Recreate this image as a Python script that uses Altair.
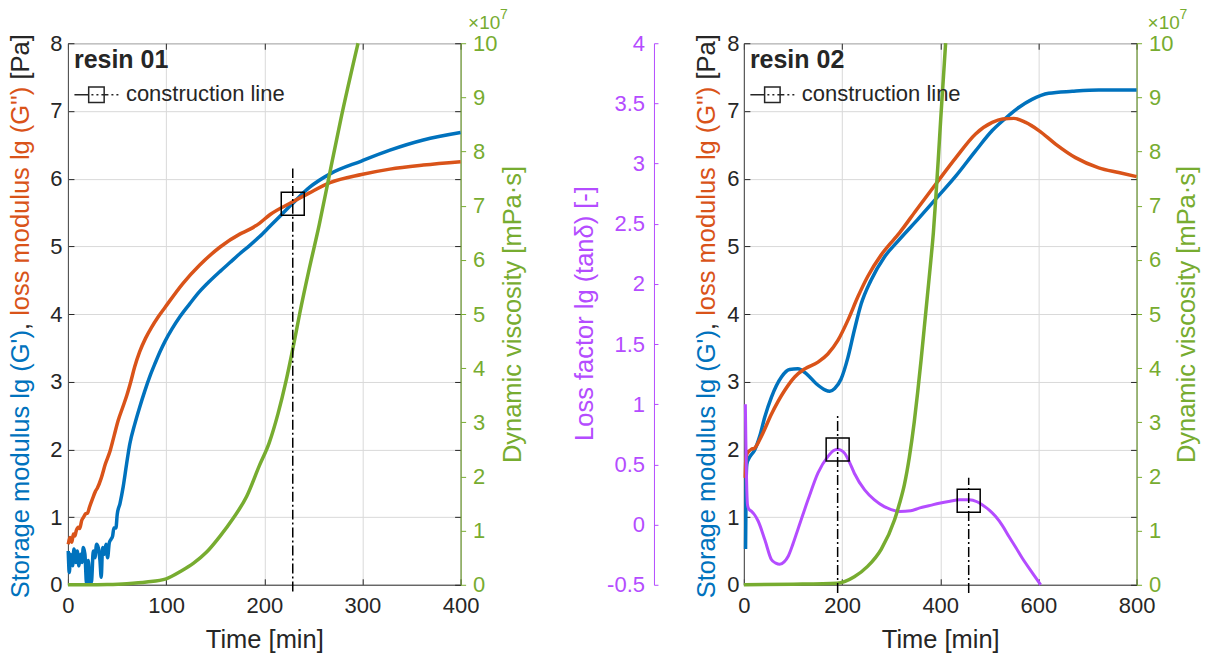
import altair as alt
import pandas as pd

# ---------------- data ----------------
# resin 01
r1_gp_t = [0.3, 1.4, 2.7, 4.8, 6.1, 8.1, 9.5, 11.2, 12.9, 14.3, 15.6, 17.3, 19.0, 20.7, 22.4, 24.1, 25.8, 27.5, 29.2, 30.9,
           32.6, 33.9, 35.3, 37.0, 38.7, 40.4, 42.1, 43.8, 45.5, 46.8, 48.9, 50.2, 53, 56.3, 59.7, 63, 68, 73,
           78, 84, 89, 94, 99, 106, 114, 124, 134, 144, 155, 165, 175, 185, 195, 206, 217, 228, 246, 267, 299, 328, 362, 400]
r1_gp_v = [0.50, 0.18, 0.45, 0.28, 0.53, 0.33, 0.50, 0.28, 0.45, 0.33, 0.55, 0.45, 0.01, 0.36, 0.01, 0.06, 0.50, 0.40, 0.60, 0.55,
           0.36, 0.11, 0.55, 0.45, 0.60, 0.40, 0.62, 0.67, 0.72, 0.84, 0.84, 1.04, 1.2, 1.45, 1.78, 2.08, 2.37, 2.62,
           2.85, 3.1, 3.28, 3.45, 3.6, 3.78, 3.96, 4.15, 4.33, 4.48, 4.63, 4.76, 4.89, 5.01, 5.14, 5.3, 5.46, 5.62, 5.87, 6.07, 6.26, 6.42, 6.57, 6.68]
r1_gpp_t = [0.3, 2, 4, 5.5, 7, 8.5, 10.5, 12, 14, 16, 18, 20, 22, 25, 28, 30, 34, 38, 43, 47,
            51, 56, 60, 64, 68, 73, 79, 85, 92, 99, 117, 134, 155, 175, 185, 195, 206, 228, 246, 267, 299, 328, 362, 400]
r1_gpp_v = [0.6, 0.7, 0.63, 0.75, 0.72, 0.8, 0.85, 0.83, 0.95, 1.0, 1.05, 1.06, 1.15, 1.27, 1.38, 1.43, 1.58, 1.78, 1.98, 2.2,
            2.42, 2.63, 2.8, 3.0, 3.22, 3.44, 3.64, 3.80, 3.96, 4.10, 4.45, 4.72, 4.99, 5.18, 5.25, 5.34, 5.47, 5.65, 5.79, 5.94, 6.06, 6.14, 6.20, 6.25]
r1_visc_t = [0, 20, 40, 60, 80, 100, 115, 128, 141, 155, 168, 182, 195, 205, 214, 222, 229, 236, 246, 256, 265, 278, 295.5]
r1_visc_v = [0, 0, 0.005, 0.02, 0.05, 0.11, 0.25, 0.4, 0.6, 0.9, 1.22, 1.63, 2.2, 2.62, 3.16, 3.75, 4.35, 5.0, 5.85, 6.65, 7.45, 8.6, 10.0]
r1_con_t = [229]
r1_con_lo = [-0.1]
r1_con_hi = [6.15]
r1_con_sq = [5.63]

# resin 02
r2_gp_t = [3.4, 4.5, 6, 9, 12, 22, 32.5, 42.6, 56, 76.5, 93, 110, 127, 147.5, 165, 175, 185, 198, 212, 225,
           239, 259, 286, 313, 357, 391, 432, 472, 506, 533, 560, 587, 621, 669, 723, 800]
r2_gp_v = [0.53, 1.5, 1.78, 1.85, 1.89, 1.99, 2.2, 2.48, 2.77, 3.07, 3.18, 3.19, 3.12, 2.97, 2.88, 2.86, 2.9, 3.04, 3.36, 3.76,
           4.15, 4.5, 4.84, 5.07, 5.42, 5.7, 6.04, 6.41, 6.71, 6.89, 7.05, 7.17, 7.26, 7.29, 7.31, 7.31]
r2_gpp_t = [2.7, 4, 6, 10, 15, 22, 36, 56, 83, 103.5, 124, 151, 171, 191.5, 212, 232, 252, 279.5, 306.6, 317,
            350.6, 391, 432, 472, 506, 527, 550, 574, 601, 635, 675.5, 723, 763.5, 800]
r2_gpp_v = [1.58, 1.85, 1.93, 1.97, 2.0, 2.02, 2.2, 2.52, 2.87, 3.07, 3.19, 3.29, 3.41, 3.61, 3.91, 4.25, 4.55, 4.87, 5.11, 5.2,
            5.53, 5.92, 6.31, 6.66, 6.83, 6.88, 6.89, 6.83, 6.71, 6.51, 6.31, 6.16, 6.09, 6.03]
r2_tan_t = [3, 4, 5, 6, 7.5, 10, 15.6, 22, 29, 43, 56, 65, 73, 82, 90, 100, 110, 131, 151, 171,
            183, 190, 197, 205, 215, 225, 246, 266, 286, 300, 317, 340, 357, 380, 398, 420, 439, 459, 475, 486,
            500, 513, 527, 540, 554, 567, 588, 604.5]
r2_tan_v = [1.0, 0.7, 0.45, 0.28, 0.16, 0.13, 0.11, 0.08, 0.03, -0.13, -0.29, -0.32, -0.33, -0.31, -0.265, -0.16, -0.04, 0.21, 0.43, 0.565,
            0.615, 0.627, 0.62, 0.594, 0.52, 0.427, 0.289, 0.206, 0.15, 0.125, 0.109, 0.115, 0.137, 0.16, 0.178, 0.195, 0.206, 0.206, 0.19, 0.164,
            0.12, 0.067, -0.01, -0.099, -0.19, -0.278, -0.403, -0.5]
r2_visc_t = [0, 100, 190, 225, 252, 280, 307, 317, 327, 337, 347, 354, 361, 367.5, 374, 381, 386, 391, 396, 401, 406, 411]
r2_visc_v = [0, 0.01, 0.03, 0.15, 0.34, 0.66, 1.2, 1.5, 1.85, 2.35, 3.0, 3.55, 4.15, 4.75, 5.35, 6.0, 6.5, 7.15, 7.85, 8.6, 9.3, 10.0]
r2_con_t = [191, 458]
r2_con_lo = [-0.12, -0.12]
r2_con_hi = [2.52, 1.58]
r2_con_sq = [2.0, 1.24]

lg_ticks = [0, 1, 2, 3, 4, 5, 6, 7, 8]
visc_ticks = [0, 1, 2, 3, 4, 5, 6, 7, 8, 9, 10]
tan_ticks = [-0.5, 0, 0.5, 1, 1.5, 2, 2.5, 3, 3.5, 4]
x1_ticks = [0, 100, 200, 300, 400]
x2_ticks = [0, 200, 400, 600, 800]

# ---------------- style ----------------
BLUE = "#0072BD"
ORANGE = "#D95319"
GREEN = "#77AC30"
PURPLE = "#B44CFF"
INK = "#262626"
GRID = "#d9d9d9"
BOX = "#4d4d4d"
FONT = "Liberation Sans"
W, H = 393, 542
LAB = 22
TTL = 25.5

one = pd.DataFrame({"k": [0]})


def xscale(xmax):
    return alt.Scale(domain=[0, xmax], nice=False, zero=False)


def x_main_axis(ticks):
    return alt.Axis(values=ticks, grid=True, gridColor=GRID, gridWidth=1, ticks=False,
                    domainColor=BOX, labelColor=INK, labelFontSize=LAB, labelPadding=28,
                    labelBaseline="alphabetic", labelFlush=False, labelOverlap=False,
                    title="Time [min]", titleColor=INK, titleFontSize=TTL, titleFontWeight="normal",
                    titleX=W / 2, titleY=63, titleBaseline="alphabetic", titleAlign="center")


def yscale(dom):
    return alt.Scale(domain=dom, nice=False, zero=False)


def line(t, v, color, xmax, xaxis, ydom, yaxis, width=3.5, interp="monotone"):
    df = pd.DataFrame({"t": t, "v": v})
    return alt.Chart(df).mark_line(color=color, strokeWidth=width, interpolate=interp).encode(
        x=alt.X("t:Q", scale=xscale(xmax), axis=xaxis),
        y=alt.Y("v:Q", scale=yscale(ydom), axis=yaxis))


def inner_ticks(t, v, xmax, xt):
    """Invisible layers that carry MATLAB-style inward box ticks."""
    df = pd.DataFrame({"t": t, "v": v})
    common = dict(grid=False, labels=False, domain=False, ticks=True, tickSize=6, tickColor=INK,
                  tickWidth=1, title=None)
    a = alt.Chart(df).mark_line(strokeOpacity=0).encode(
        x=alt.X("t:Q", scale=xscale(xmax), axis=alt.Axis(orient="bottom", offset=-H, values=xt, **common)),
        y=alt.Y("v:Q", scale=yscale([0, 8]), axis=alt.Axis(orient="right", offset=-W, values=lg_ticks, **common)))
    b = alt.Chart(df).mark_line(strokeOpacity=0).encode(
        x=alt.X("t:Q", scale=xscale(xmax), axis=alt.Axis(orient="top", offset=-H, values=xt, **common)),
        y=alt.Y("v:Q", scale=yscale([0, 8]), axis=alt.Axis(orient="left", offset=-W, values=lg_ticks, **common)))
    return [a, b]


def txt(text, x, y, size, color=INK, weight="normal", angle=0, align="left", baseline="alphabetic"):
    return alt.Chart(one).mark_text(text=text, font=FONT, fontSize=size, fontWeight=weight, color=color,
                                    angle=angle, align=align, baseline=baseline).encode(
        x=alt.value(x), y=alt.value(y))


def lg_axis(pad):
    return alt.Axis(orient="left", values=lg_ticks, grid=True, gridColor=GRID, gridWidth=1, ticks=False,
                    domainColor=BOX, labelColor=INK, labelFontSize=LAB, labelPadding=pad,
                    labelFlush=False, labelOverlap=False, title=None)


def visc_axis(tx):
    return alt.Axis(orient="right", values=visc_ticks, grid=False, ticks=True, tickSize=5, tickColor=GREEN,
                    domainColor=GREEN, labelColor=GREEN, labelFontSize=LAB, labelPadding=7,
                    labelFlush=False, labelOverlap=False,
                    title="Dynamic viscosity [mPa·s]", titleColor=GREEN, titleFontSize=TTL,
                    titleFontWeight="normal", titleAngle=270, titleX=tx, titleY=H / 2,
                    titleAlign="center", titleBaseline="alphabetic")


def decorations(label, bx, xlab):
    s = 555.5
    return [
        txt("Storage modulus lg (G')", bx, s, TTL, BLUE, angle=270),
        txt(",", bx, s - 268.5, TTL, INK, angle=270),
        txt("loss modulus lg (G'')", bx, s - 282.7, TTL, ORANGE, angle=270),
        txt("[Pa]", bx, s - 519.2, TTL, INK, angle=270),
        txt(label, 6, 24.3, 25, INK, weight="bold"),
        alt.Chart(one).mark_rule(color=INK, strokeWidth=1.5, strokeDash=[14, 3, 2, 3, 2, 3, 7, 3, 2, 3]).encode(
            x=alt.value(6.5), x2=alt.value(50.5), y=alt.value(51.5)),
        alt.Chart(one).mark_point(shape="square", size=240, filled=False, color=INK, strokeWidth=1.5, opacity=1).encode(
            x=alt.value(28.5), y=alt.value(51.5)),
        txt("construction line", 58, 57.5, 22, INK),
        txt("×10", xlab, -14.5, 19, GREEN),
        txt("7", xlab + 32, -24.5, 14, GREEN),
    ]


def construction(t, lo, hi, sq, xmax):
    df = pd.DataFrame({"t": t, "lo": lo, "hi": hi, "sq": sq})
    xe = alt.X("t:Q", scale=xscale(xmax), axis=None)
    rule = alt.Chart(df).mark_rule(color="black", strokeWidth=1.5, strokeDash=[10, 3, 2, 3]).encode(
        x=xe, y=alt.Y("lo:Q", scale=yscale([0, 8]), axis=None), y2="hi:Q")
    box = alt.Chart(df).mark_point(shape="square", size=529, filled=False, color="black",
                                   strokeWidth=1.5, opacity=1).encode(
        x=xe, y=alt.Y("sq:Q", scale=yscale([0, 8]), axis=None))
    return [rule, box]


# ---------------- left panel ----------------
left_layers = inner_ticks(r1_gp_t, r1_gp_v, 400, x1_ticks) + [
    line(r1_gp_t, r1_gp_v, BLUE, 400, x_main_axis(x1_ticks), [0, 8], lg_axis(6)),
    line(r1_gpp_t, r1_gpp_v, ORANGE, 400, None, [0, 8], None),
    line(r1_visc_t, r1_visc_v, GREEN, 400, None, [0, 10], visc_axis(60)),
] + construction(r1_con_t, r1_con_lo, r1_con_hi, r1_con_sq, 400) + decorations("resin 01", -39, 400.5) + [
    alt.Chart(one).mark_rule(strokeOpacity=0, strokeWidth=0).encode(
        x=alt.value(-67.5), y=alt.value(-42.5), y2=alt.value(612.5)),
]
left = alt.layer(*left_layers).resolve_scale(x="independent", y="independent").properties(width=W, height=H)

# ---------------- right panel ----------------
tan_axis = alt.Axis(orient="left", offset=90, values=tan_ticks, grid=False, ticks=False,
                    domainColor=PURPLE, labelColor=PURPLE, labelFontSize=LAB, labelPadding=9.5,
                    labelFlush=False, labelOverlap=False,
                    labelExpr="datum.value < 0 ? '-' + format(-datum.value, '~g') : format(datum.value, '~g')",
                    title="Loss factor lg (tanδ) [-]", titleColor=PURPLE, titleFontSize=TTL,
                    titleFontWeight="normal", titleAngle=270, titleX=-61.5, titleY=270,
                    titleAlign="center", titleBaseline="alphabetic")
tan_tick_axis = alt.Axis(orient="right", offset=-(W + 90), values=tan_ticks, grid=False, ticks=True,
                         tickSize=4, tickColor=PURPLE, labels=False, domain=False, title=None)
tan_df = pd.DataFrame({"t": r2_tan_t, "v": r2_tan_v})
right_layers = inner_ticks(r2_gp_t, r2_gp_v, 800, x2_ticks) + [
    line(r2_gp_t, r2_gp_v, BLUE, 800, x_main_axis(x2_ticks), [0, 8], lg_axis(5)),
    line(r2_gpp_t, r2_gpp_v, ORANGE, 800, None, [0, 8], None),
    line(r2_tan_t, r2_tan_v, PURPLE, 800, None, [-0.5, 4], tan_axis, width=3),
    alt.Chart(tan_df).mark_line(strokeOpacity=0).encode(
        x=alt.X("t:Q", scale=xscale(800), axis=None),
        y=alt.Y("v:Q", scale=yscale([-0.5, 4]), axis=tan_tick_axis)),
    line(r2_visc_t, r2_visc_v, GREEN, 800, None, [0, 10], visc_axis(58)),
] + construction(r2_con_t, r2_con_lo, r2_con_hi, r2_con_sq, 800) + decorations("resin 02", -29, 404) + [
    alt.Chart(one).mark_rule(strokeOpacity=0, strokeWidth=0).encode(
        x=alt.value(471), y=alt.value(-42.5), y2=alt.value(612.5)),
]
right = alt.layer(*right_layers).resolve_scale(x="independent", y="independent").properties(width=W, height=H)

chart = alt.hconcat(left, right, spacing=283.5, bounds="flush", padding=0).configure_view(
    stroke=BOX, strokeWidth=1).configure_axis(labelFont=FONT, titleFont=FONT)

chart.save("out.html", embed_options={"renderer": "svg", "actions": False})
